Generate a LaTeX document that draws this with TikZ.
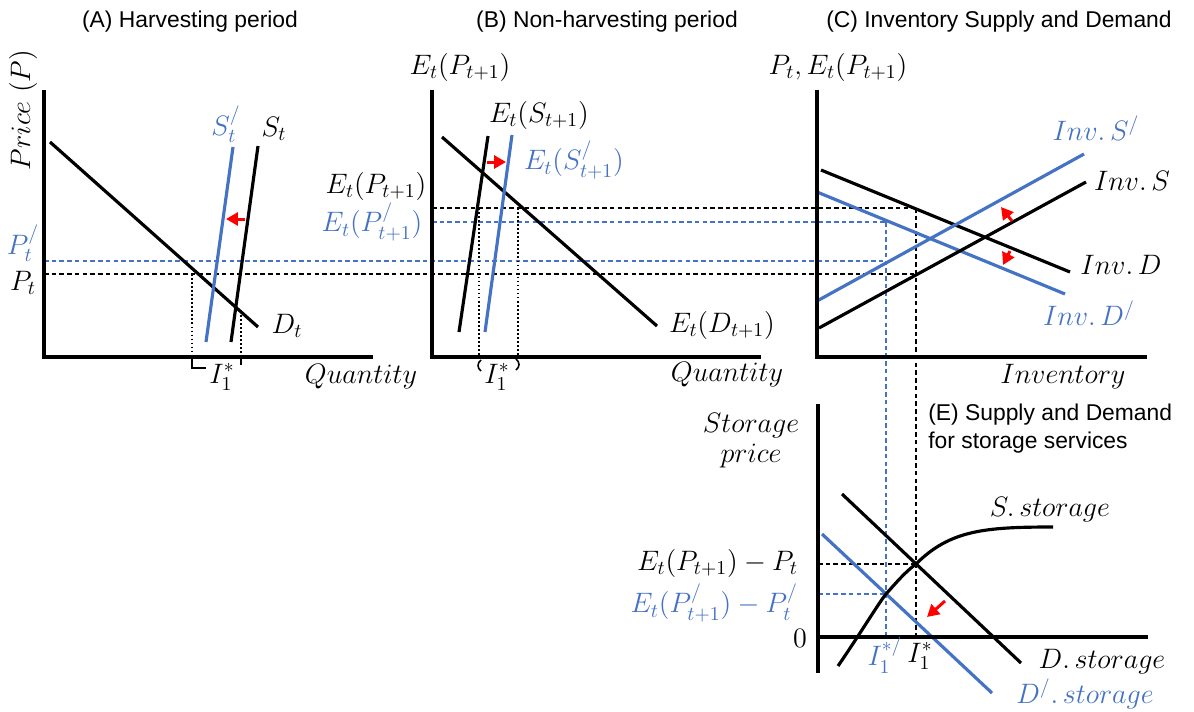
\RequirePackage{fix-cm}
\documentclass[tikz,border=0pt]{standalone}
\usepackage{fontspec}
\usepackage{amsmath}
\usetikzlibrary{arrows.meta}
\newfontfamily\arialfont{Liberation Sans}
\definecolor{cBlue}{HTML}{4472C4}
\definecolor{cRed}{HTML}{FF0000}
\tikzset{
  axis/.style={line width=2.3pt},
  curve/.style={line width=1.8pt},
  bcurve/.style={curve, draw=cBlue},
  guide/.style={line width=0.85pt, dash pattern=on 2.6pt off 1.8pt},
  bguide/.style={guide, draw=cBlue},
  vdots/.style={line width=1pt, dash pattern=on 0.9pt off 1.4pt},
  brk/.style={line width=0.9pt},
  movearrow/.style={-{Triangle[length=2.4mm,width=2.6mm]}, draw=cRed, line width=1.7pt},
  lab/.style={font=\fontsize{16}{18}\selectfont, inner sep=1pt},
  blab/.style={lab, text=cBlue},
  ttl/.style={font=\arialfont\fontsize{13}{16}\selectfont, align=left, inner sep=0pt},
}

\begin{document}
\begin{tikzpicture}[x=0.02cm, y=-0.02cm]
\useasboundingbox (0,0) rectangle (1194,711);

% ===================== titles =====================
\node[ttl] (ttlA) at (190,22) {(A) Harvesting period};
\node[ttl] (ttlB) at (607,22) {(B) Non-harvesting period};
\node[ttl] (ttlC) at (999,22) {(C) Inventory Supply and Demand};
\node[ttl, anchor=west] (ttlE) at (928,429) {(E) Supply and Demand\\for storage services};

% ===================== guide lines across panels =====================
\coordinate (eqA) at (192,274);  \coordinate (eqAb) at (241,311);
\coordinate (eqB) at (479,208);  \coordinate (eqBb) at (518,208);
\coordinate (eqC) at (916,208);  \coordinate (eqCb) at (886,222);
\coordinate (eqE) at (916,564);  \coordinate (eqEb) at (886,594);

\draw[guide]  (44,274) -- (916,274);
\draw[bguide] (44,261) -- (886,261);
\draw[guide]  (432,208) -- (eqC);
\draw[bguide] (432,222) -- (eqCb);
\draw[guide]  (eqC) -- (916,637);
\draw[bguide] (eqCb) -- (886,637);
\draw[guide]  (818,564) -- (eqE);
\draw[bguide] (818,594) -- (eqEb);

% ===================== (A) =====================
\draw[vdots] (eqA) -- (192,357);
\draw[vdots] (eqAb) -- (241,357);
\draw[brk] (192,357) -- (192,368) -- (206,368);
\draw[brk] (241,358) -- (241,365);

\draw[curve]  (50,142) -- (258,327);
\draw[bcurve] (206,342) -- (233,147);
\draw[curve]  (231,342) -- (258,146);
\draw[movearrow] (245,219) -- (226,219);
\draw[axis] (44,90) -- (44,357) -- (373,357);

\node[lab, rotate=90] (yA) at (23,110) {$Price\ (P)$};
\node[blab] (Ptp) at (23,243) {$P_t^{/}$};
\node[lab] (Pt) at (23,283) {$P_t$};
\node[blab] (Stp) at (226,124) {$S_t^{/}$};
\node[lab] (St) at (274,129) {$S_t$};
\node[lab] (Dt) at (287,326) {$D_t$};
\node[lab] (IA) at (222,377) {$I_1^{*}$};
\node[lab] (xA) at (361,377) {$Quantity$};

% ===================== (B) =====================
\draw[vdots] (eqB) -- (479,357);
\draw[vdots] (eqBb) -- (518,357);
\draw[brk] (481,360) .. controls (477,363) and (477,368) .. (481,371);
\draw[brk] (516,359) .. controls (520,362) and (520,367) .. (516,370);

\draw[curve]  (442,137) -- (657,326);
\draw[curve]  (459,332) -- (488,136);
\draw[bcurve] (485,332) -- (512,135);
\draw[movearrow] (487,162) -- (506,162);
\draw[axis] (432,90) -- (432,357) -- (761,357);

\node[lab] (yB) at (460,67) {$E_t(P_{t+1})$};
\node[lab] (EP) at (376,186) {$E_t(P_{t+1})$};
\node[blab] (EPp) at (372,222) {$E_t(P_{t+1}^{/})$};
\node[lab] (ES) at (539,115) {$E_t(S_{t+1})$};
\node[blab] (ESp) at (574,160) {$E_t(S_{t+1}^{/})$};
\node[lab] (ED) at (722,325) {$E_t(D_{t+1})$};
\node[lab] (IB) at (497,377) {$I_1^{*}$};
\node[lab] (xB) at (727,375) {$Quantity$};

% ===================== (C) =====================
\draw[curve]  (821,170) -- (1070,272);
\draw[bcurve] (817,192) -- (1065,294);
\draw[curve]  (819,328) -- (1086,182);
\draw[bcurve] (817,301) -- (1084,154);
\draw[movearrow] (1012,221) -- (1001,207);
\draw[movearrow] (1010,251) -- (1003,265);
\draw[axis] (817,90) -- (817,357) -- (1147,357);

\node[lab] (yC) at (838,67) {$P_t, E_t(P_{t+1})$};
\node[blab] (invSp) at (1096,128) {$Inv.\,S^{/}$};
\node[lab] (invS) at (1132,181) {$Inv.\,S$};
\node[lab] (invD) at (1121,265) {$Inv.\,D$};
\node[blab] (invDp) at (1089,313) {$Inv.\,D^{/}$};
\node[lab] (xC) at (1063,377) {$Inventory$};

% ===================== (E) =====================
\draw[curve]  (842,494) -- (1021,663);
\draw[bcurve] (822,534) -- (992,693);
\draw[curve]  (838,666) .. controls (860,634) and (880,601) .. (eqEb)
              .. controls (895,584) and (905,572) .. (eqE)
              .. controls (950,530) and (985,527) .. (1053,527);
\draw[movearrow] (945,601) -- (927,617);
\draw[axis] (818,404) -- (818,673);
\draw[axis] (818,637) -- (1148,637);

\node[lab, align=center] (yE) at (751,441) {$Storage$\\[-1pt]$price$};
\node[lab, anchor=east] (gap) at (800,563) {$E_t(P_{t+1})-P_t$};
\node[blab, anchor=east] (gapp) at (800,603) {$E_t(P_{t+1}^{/})-P_t^{/}$};
\node[lab] (zero) at (800,638) {$0$};
\node[blab] (Ip) at (885,655) {$I_1^{*/}$};
\node[lab] (I1) at (920,656) {$I_1^{*}$};
\node[lab] (Ss) at (1050,510) {$S.\,storage$};
\node[lab] (Ds) at (1102,662) {$D.\,storage$};
\node[blab] (Dsp) at (1085,694) {$D^{/}.\,storage$};

\end{tikzpicture}
\end{document}
